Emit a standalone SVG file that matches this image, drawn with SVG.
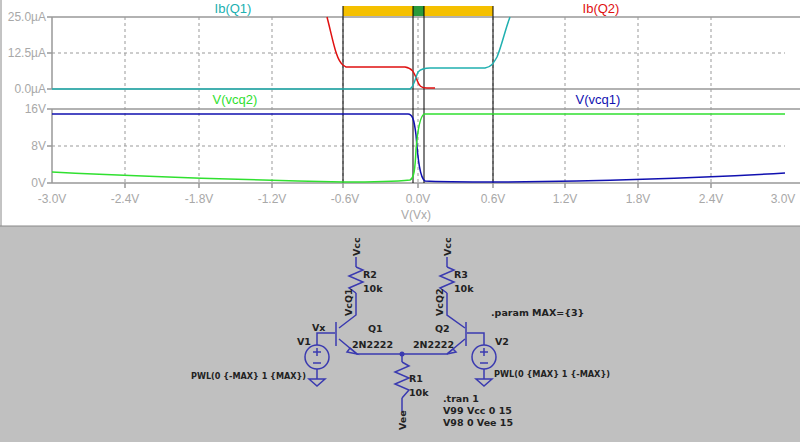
<svg xmlns="http://www.w3.org/2000/svg" width="800" height="442" viewBox="0 0 800 442">
<style>
.ax{font-family:"Liberation Sans",Arial,sans-serif;font-size:12px;fill:#a8a8a8}
.lb{font-family:"Liberation Sans",Arial,sans-serif;font-size:13px}
.g{stroke:#999;stroke-width:1;stroke-dasharray:3,3}
.cur{stroke:#000;stroke-width:1}
.w{stroke:#3a3ab0;stroke-width:1.5;fill:none}
.t{font-family:"DejaVu Sans",sans-serif;font-size:9.5px;font-weight:bold;fill:#222}
</style>
<rect width="800" height="442" fill="#fff"/>
<rect x="0" y="226" width="800" height="216" fill="#c0c0c0"/>
<line x1="0" y1="226" x2="800" y2="226" stroke="#888"/>
<line x1="1" y1="0" x2="1" y2="226" stroke="#888"/>
<g id="plot">
<g class="g">
<line x1="52" y1="53" x2="785" y2="53"/><line x1="52" y1="146" x2="785" y2="146"/>
<line x1="125" y1="17" x2="125" y2="183"/><line x1="199" y1="17" x2="199" y2="183"/>
<line x1="272" y1="17" x2="272" y2="183"/><line x1="343" y1="17" x2="343" y2="183"/>
<line x1="418" y1="17" x2="418" y2="183"/><line x1="493" y1="17" x2="493" y2="183"/>
<line x1="565" y1="17" x2="565" y2="183"/><line x1="638" y1="17" x2="638" y2="183"/>
<line x1="711" y1="17" x2="711" y2="183"/>
</g>
<g stroke="#999" stroke-width="1.5" fill="none">
<path d="M52 17H800M52 89H800M52 17V89M52 109H800M52 183H800M52 109V183"/>
<path d="M47 17H52M47 53H52M47 89H52M47 109H52M47 146H52M47 183H52M125 183V188M199 183V188M272 183V188M343 183V188M418 183V188M493 183V188M565 183V188M638 183V188M711 183V188"/>
</g>
<g class="ax" text-anchor="end">
<text x="46" y="21">25.0µA</text><text x="46" y="57">12.5µA</text><text x="46" y="93">0.0µA</text>
<text x="46" y="113">16V</text><text x="46" y="150">8V</text><text x="46" y="187">0V</text>
</g>
<g class="ax" text-anchor="middle">
<text x="52" y="203">-3.0V</text><text x="125" y="203">-2.4V</text><text x="199" y="203">-1.8V</text><text x="272" y="203">-1.2V</text><text x="345" y="203">-0.6V</text><text x="418" y="203">0.0V</text><text x="493" y="203">0.6V</text><text x="565" y="203">1.2V</text><text x="638" y="203">1.8V</text><text x="711" y="203">2.4V</text><text x="783" y="203">3.0V</text>
<text x="416" y="219">V(Vx)</text>
</g>
<rect x="343" y="6" width="150" height="10" fill="#f5c000"/>
<rect x="413" y="6" width="11" height="10" fill="#2a9a3a"/>
<g class="cur"><line x1="343" y1="6" x2="343" y2="183"/><line x1="413" y1="6" x2="413" y2="183"/><line x1="424" y1="6" x2="424" y2="183"/><line x1="493" y1="6" x2="493" y2="183"/></g>
<g fill="none" stroke-width="1.5">
<path stroke="#e01010" d="M327 17C333 40 336 60 343 65L346 67H405C412 68 414 72 417 80C419 86 421 88 427 88H435"/>
<path stroke="#20b0b0" d="M52 89H410C414 87 416 76 418 72C421 69 425 68 430 68H485C491 67 493 64 497 57C502 45 505 30 510 17"/>
<path stroke="#1010b0" d="M52 114H408C412 114 414 118 416 135C418 160 420 178 425 181C440 182 480 182 500 182C600 181 700 178 785 173"/>
<path stroke="#30e030" d="M52 172C150 177 250 180 343 182C380 182 400 181 410 180C414 178 415 170 416 150C418 125 421 116 424 114H785"/>
</g>
<text class="lb" x="233" y="13" fill="#20b0b0" text-anchor="middle">Ib(Q1)</text>
<text class="lb" x="601" y="13" fill="#e01010" text-anchor="middle">Ib(Q2)</text>
<text class="lb" x="235" y="104" fill="#30e030" text-anchor="middle">V(vcq2)</text>
<text class="lb" x="598" y="104" fill="#1010b0" text-anchor="middle">V(vcq1)</text>
</g>
<g id="wires" class="w">
<path d="M356 257V267M356 293V315L339 328"/>
<path d="M339 339L357 354H447L465 339"/>
<path d="M447 257V267M447 293V315L465 328"/>
<path d="M402 354V362M402 398V412"/>
<path d="M317 345V333H335M484 345V333H467"/>
<path d="M317 369V379M484 369V379"/>
</g>
<g id="R2"><path class="w" d="M356 267L363 270L349 276L363 282L349 288L356 293"/><text class="t" x="363" y="278">R2</text><text class="t" x="363" y="292">10k</text></g>
<g id="R3"><path class="w" d="M447 267L454 270L440 276L454 282L440 288L447 293"/><text class="t" x="454" y="278">R3</text><text class="t" x="454" y="292">10k</text></g>
<g id="R1"><path class="w" d="M402 362L409 366L395 372L409 378L395 384L409 390L402 398"/><text class="t" x="409" y="382">R1</text><text class="t" x="409" y="396">10k</text></g>
<g id="Q1"><line class="w" x1="336" y1="322" x2="336" y2="346" stroke-width="2.5"/><path class="w" d="M350 348L357 354L347 352Z"/><text class="t" x="368" y="332">Q1</text><text class="t" x="352" y="348">2N2222</text></g>
<g id="Q2"><line class="w" x1="466" y1="322" x2="466" y2="346" stroke-width="2.5"/><path class="w" d="M453 349L447 354L456 352Z"/><text class="t" x="435" y="332">Q2</text><text class="t" x="413" y="348">2N2222</text></g>
<circle cx="402" cy="354" r="2.5" fill="#3a3ab0"/>
<g id="V1"><circle class="w" cx="317" cy="357" r="12"/><path class="w" d="M313 352H321M317 348V356M313 363H321"/><path class="w" d="M309 379H325L317 386Z"/><text class="t" x="297" y="345">V1</text><text class="t" x="312" y="331">Vx</text><text class="t" x="191" y="379" textLength="115" lengthAdjust="spacingAndGlyphs">PWL(0 {-MAX} 1 {MAX})</text></g>
<g id="V2"><circle class="w" cx="484" cy="357" r="12"/><path class="w" d="M480 352H488M484 348V356M480 363H488"/><path class="w" d="M476 379H492L484 386Z"/><text class="t" x="495" y="345">V2</text><text class="t" x="494" y="377" textLength="116" lengthAdjust="spacingAndGlyphs">PWL(0 {MAX} 1 {-MAX})</text></g>
<g id="labels">
<text class="t" transform="translate(360,256) rotate(-90)">Vcc</text>
<text class="t" transform="translate(451,256) rotate(-90)">Vcc</text>
<text class="t" transform="translate(406,430) rotate(-90)">Vee</text>
<text class="t" transform="translate(352,316) rotate(-90)">VcQ1</text>
<text class="t" transform="translate(443,316) rotate(-90)">VcQ2</text>
<text class="t" x="491" y="316">.param MAX={3}</text>
<text class="t" x="443" y="402">.tran 1</text>
<text class="t" x="443" y="414">V99 Vcc 0 15</text>
<text class="t" x="443" y="426">V98 0 Vee 15</text>
</g>
</svg>
